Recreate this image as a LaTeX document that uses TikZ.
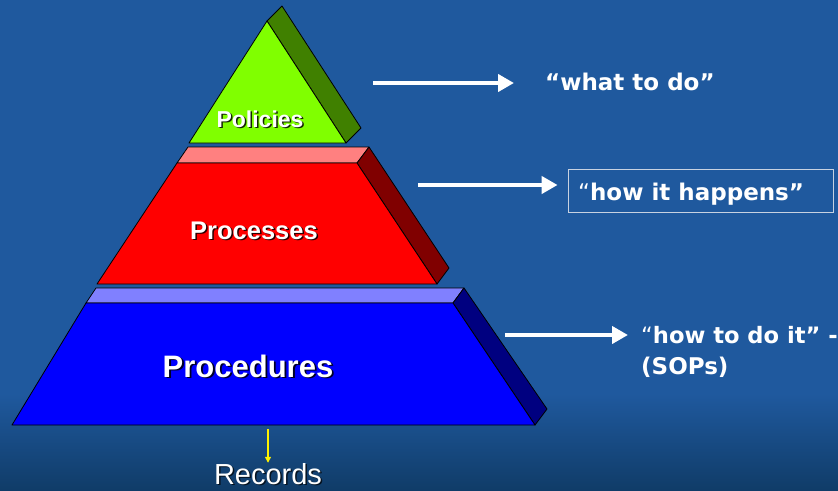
\documentclass[tikz,border=0pt]{standalone}
\usepackage{fontspec}
\setmainfont{Liberation Sans}
\newfontfamily\tah{DejaVu Sans}
\usetikzlibrary{arrows.meta}
\definecolor{bgtop}{RGB}{31,89,158}
\definecolor{bgbot}{RGB}{16,60,104}
\definecolor{polfront}{RGB}{128,255,0}
\definecolor{polside}{RGB}{64,128,0}
\definecolor{protop}{RGB}{255,128,128}
\definecolor{profront}{RGB}{255,0,0}
\definecolor{proside}{RGB}{128,0,0}
\definecolor{sottop}{RGB}{128,128,255}
\definecolor{sotfront}{RGB}{0,0,255}
\definecolor{sotside}{RGB}{0,0,128}
\definecolor{boxgray}{RGB}{200,210,225}
\tikzset{
  face/.style={draw=black, line width=0.8pt, line join=round},
  lbl/.style={text=white, anchor=base, inner sep=0pt, font=\bfseries},
  lblshadow/.style={text=black, anchor=base, inner sep=0pt, font=\bfseries, opacity=0.85},
  rtext/.style={text=white, anchor=base west, inner sep=0pt, font=\tah\bfseries\fontsize{23}{32}\selectfont},
  warrow/.style={white, line width=4.5pt, -{Triangle[length=16pt,width=17pt]}},
  yarrow/.style={yellow, line width=1.3pt, -{Triangle[length=6pt,width=6pt]}}
}
\begin{document}
\begin{tikzpicture}[x=1pt,y=-1pt]
\useasboundingbox (0,0) rectangle (838,490);
% background
\fill[bgtop] (0,0) rectangle (838,395);
\shade[top color=bgtop, bottom color=bgbot] (0,394) rectangle (838,490);

% Policies
\filldraw[face, fill=polside] (267,21) -- (282,6) -- (361,128) -- (346,143) -- cycle;
\filldraw[face, fill=polfront] (267,21) -- (189,143) -- (346,143) -- cycle;
% Processes
\filldraw[face, fill=protop] (177,163) -- (188,147) -- (369,147) -- (357,163) -- cycle;
\filldraw[face, fill=proside] (357,163) -- (369,147) -- (449,268) -- (437,284) -- cycle;
\filldraw[face, fill=profront] (177,163) -- (357,163) -- (437,284) -- (97,284) -- cycle;
% Procedures
\filldraw[face, fill=sottop] (86,303) -- (96,288) -- (464,288) -- (453,303) -- cycle;
\filldraw[face, fill=sotside] (453,303) -- (464,288) -- (547,409) -- (535,425) -- cycle;
\filldraw[face, fill=sotfront] (86,303) -- (453,303) -- (535,425) -- (12,425) -- cycle;

% labels
\node[lblshadow, font=\bfseries\fontsize{23}{27}\selectfont] (polS) at (261.5,128.5) {Policies};
\node[lbl, font=\bfseries\fontsize{23}{27}\selectfont] (pol) at (260,127) {Policies};
\node[lblshadow, font=\bfseries\fontsize{25.5}{30}\selectfont] (procS) at (255.5,240.5) {Processes};
\node[lbl, font=\bfseries\fontsize{25.5}{30}\selectfont] (proc) at (254,239) {Processes};
\node[lblshadow, font=\bfseries\fontsize{31}{36}\selectfont] (sopS) at (249.8,378.8) {Procedures};
\node[lbl, font=\bfseries\fontsize{31}{36}\selectfont] (sop) at (248,377) {Procedures};

% right texts
\node[rtext] (what) at (545,90) {“what to do”};
\node[draw=boxgray, line width=0.8pt, minimum width=265pt, minimum height=43pt, inner sep=0pt] (hbox) at (700.5,190.5) {};
\node[rtext] (happens) at (578,200) {{\mdseries “}how it happens”};
\node[rtext, font=\tah\bfseries\fontsize{22.6}{30}\selectfont] (howto) at (641,343) {{\mdseries “}how to do it” -};
\node[rtext] (sops) at (641,374) {(SOPs)};

% records
\node[lblshadow, font=\fontsize{29}{34}\selectfont, opacity=0.7] (recS) at (269.5,485.5) {Records};
\node[lbl, font=\fontsize{29}{34}\selectfont] (rec) at (268,484) {Records};

% arrows
\coordinate (a1) at (373,83);
\coordinate (a2) at (418,185);
\coordinate (a3) at (505,335);
\coordinate (a4) at (268,429);
\draw[warrow, shorten >=31pt] (a1) -- (a1 -| what.west);
\draw[warrow, shorten >=10pt] (a2) -- (hbox.west |- a2);
\draw[warrow, shorten >=13pt] (a3) -- (a3 -| howto.west);
\draw[yarrow] (a4) -- (a4 |- rec.north);
\end{tikzpicture}
\end{document}
